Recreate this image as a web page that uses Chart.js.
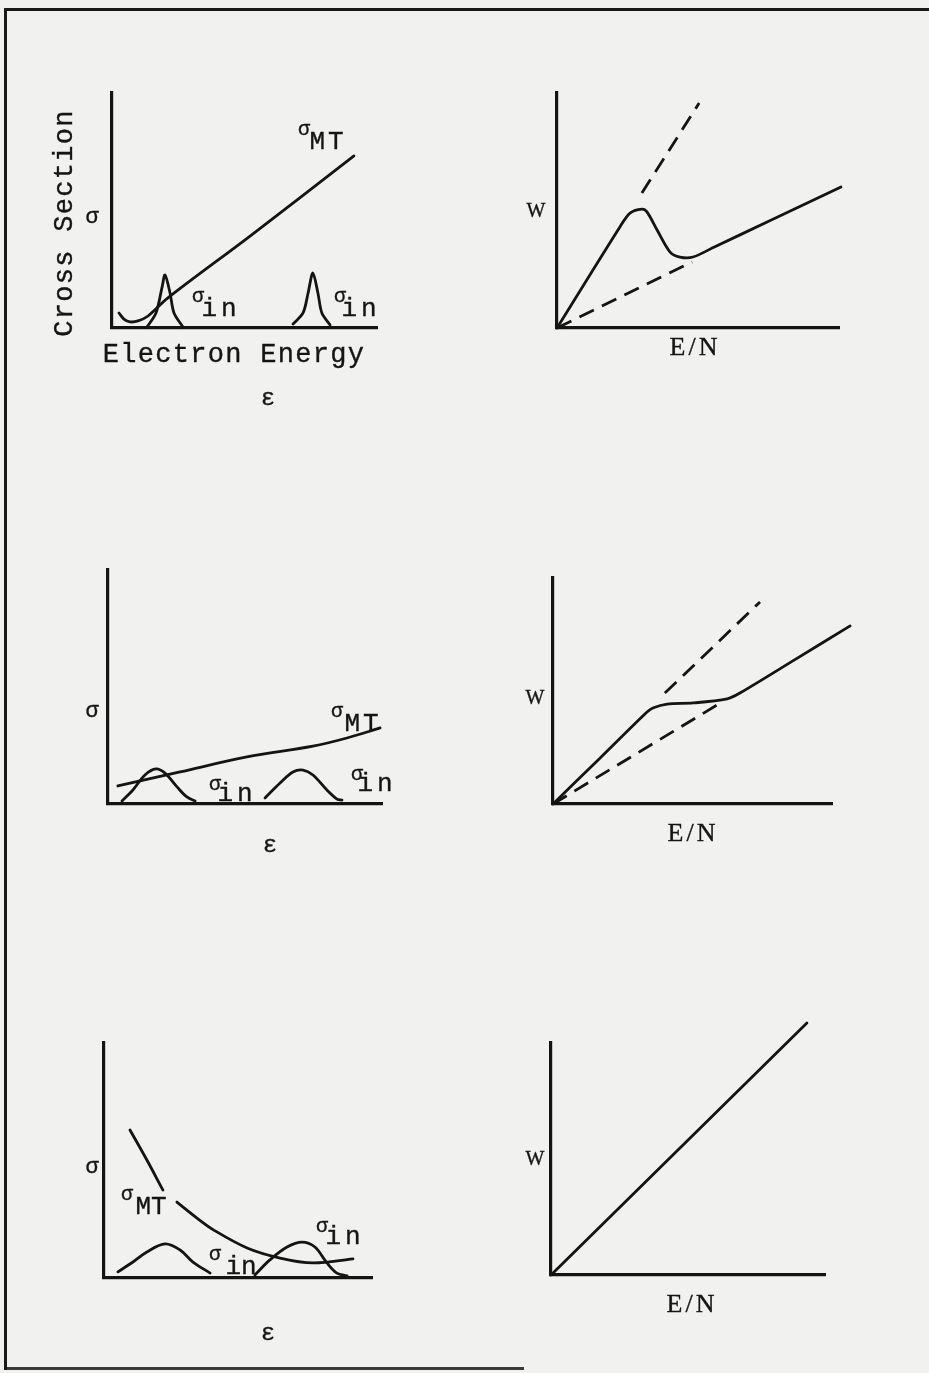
<!DOCTYPE html>
<html>
<head>
<meta charset="utf-8">
<script src="https://cdn.jsdelivr.net/npm/chart.js@4"></script>
<style>
  html, body { margin:0; padding:0; }
  body { width:929px; height:1373px; background:#f1f1ef; position:relative; overflow:hidden; }
  canvas { position:absolute; left:0; top:0; }
  .lbl { position:absolute; transform:translate(-50%,-50%); line-height:1; white-space:nowrap; color:#151515; -webkit-text-stroke:0.35px #151515; }
  .mono { font-family:"Liberation Mono","DejaVu Sans Mono",monospace; }
  .serif { font-family:"Liberation Serif","DejaVu Serif",serif; }
  .bar { position:absolute; background:#1a1a1a; }
</style>
</head>
<body>
<div class="bar" style="left:5px;top:8px;width:924px;height:3px;"></div>
<div class="bar" style="left:4px;top:8px;width:3px;height:1362px;"></div>
<div class="bar" style="left:4px;top:1367px;width:520px;height:3px;opacity:0.85;"></div>

<canvas id="c1" width="929" height="1373"></canvas>
<canvas id="c2" width="929" height="1373"></canvas>
<canvas id="c3" width="929" height="1373"></canvas>
<canvas id="c4" width="929" height="1373"></canvas>
<canvas id="c5" width="929" height="1373"></canvas>
<canvas id="c6" width="929" height="1373"></canvas>

<script>
// ---------- DATA (arbitrary units, each axis spans 0..10) ----------
// Panel 1: cross sections (sigma_MT rising, two narrow inelastic peaks)
const p1MtX  = [0.26, 0.45, 0.68, 0.98, 1.36, 2.11, 5.21, 9.13];
const p1MtY  = [0.64, 0.38, 0.26, 0.30, 0.51, 1.28, 3.91, 7.32];
const p1In1X = [1.32, 1.66, 1.89, 2.00, 2.19, 2.34, 2.68];
const p1In1Y = [0.04, 0.64, 1.74, 2.26, 1.49, 0.64, 0.04];
const p1In2X = [6.83, 7.21, 7.40, 7.58, 7.77, 7.92, 8.23];
const p1In2Y = [0.17, 0.64, 1.49, 2.34, 1.49, 0.64, 0.13];

// Panel 2: W vs E/N with peak (negative differential conductivity)
const p2SolidX = [0, 2.23, 2.59, 3.01, 3.19, 3.55, 4.01, 4.36, 4.82, 5.60, 7.45, 10.07];
const p2SolidY = [0, 4.30, 4.89, 5.06, 4.94, 4.17, 3.23, 3.02, 3.02, 3.46, 4.51, 6.00];
const p2UpX  = [3.01, 5.04];
const p2UpY  = [5.74, 9.57];
const p2LowX = [0, 4.79];
const p2LowY = [0, 2.81];

// Panel 3: slowly rising sigma_MT, two broad inelastic peaks
const p3MtX  = [0.36, 2.63, 5.07, 7.48, 8.72, 9.93];
const p3MtY  = [0.77, 1.37, 2.01, 2.47, 2.82, 3.25];
const p3In1X = [0.51, 0.91, 1.35, 1.75, 2.08, 2.52, 2.88, 3.18];
const p3In1Y = [0.13, 0.60, 1.24, 1.50, 1.32, 0.73, 0.30, 0.13];
const p3In2X = [5.73, 6.28, 6.75, 7.12, 7.48, 7.99, 8.36, 8.54];
const p3In2Y = [0.26, 0.90, 1.37, 1.45, 1.24, 0.60, 0.21, 0.17];

// Panel 4: W vs E/N with plateau
const p4SolidX = [0, 1.70, 3.37, 3.58, 4.09, 5.02, 6.24, 6.70, 8.70, 10.65];
const p4SolidY = [0, 2.05, 4.07, 4.25, 4.42, 4.47, 4.65, 4.91, 6.41, 7.88];
const p4UpX  = [4.01, 7.42];
const p4UpY  = [4.91, 8.94];
const p4LowX = [0, 5.88];
const p4LowY = [0, 4.38];

// Panel 5: decreasing sigma_MT (broken at label), two broad peaks
const p5MtX  = [0.97, 1.60, 2.20, 2.46, 2.72, 3.47, 4.07, 5.34, 6.57, 7.80, 9.29];
const p5MtY  = [6.30, 5.02, 3.74, null, 3.23, 2.55, 2.06, 1.28, 0.85, 0.64, 0.81];
const p5In1X = [0.52, 1.08, 1.60, 2.28, 2.84, 3.32, 3.96];
const p5In1Y = [0.26, 0.68, 1.11, 1.45, 1.19, 0.68, 0.21];
const p5In2X = [5.63, 6.19, 6.83, 7.39, 7.87, 8.32, 8.69, 9.07];
const p5In2Y = [0.13, 0.77, 1.32, 1.53, 1.32, 0.64, 0.21, 0.09];

// Panel 6: linear W vs E/N
const p6X = [0, 9.34];
const p6Y = [0, 10.86];

// ---------- RENDERING ----------
const INK = '#141414';
const PW = 929, PH = 1373;

function pts(xs, ys) { return xs.map((x, i) => ({ x: x, y: ys[i] })); }
function solid(xs, ys, t) {
  return { data: pts(xs, ys), borderColor: INK, borderWidth: 2.8, pointRadius: 0,
           tension: (t === undefined ? 0.35 : t), borderCapStyle: 'round', borderJoinStyle: 'round',
           spanGaps: false, clip: false, fill: false };
}
function dashed(xs, ys) {
  return { data: pts(xs, ys), borderColor: INK, borderWidth: 2.8, pointRadius: 0,
           borderDash: [16, 9], borderCapStyle: 'butt', clip: false, fill: false };
}

function panel(id, box, datasets) {
  new Chart(document.getElementById(id), {
    type: 'line',
    data: { datasets: datasets },
    options: {
      responsive: false, animation: false, events: [],
      layout: { padding: { left: box.x0, top: box.yTop, right: PW - box.xEnd, bottom: PH - box.y0 } },
      plugins: { legend: { display: false }, tooltip: { enabled: false }, title: { display: false } },
      scales: {
        x: { type: 'linear', min: 0, max: 10, grid: { display: false }, ticks: { display: false },
             border: { display: true, color: INK, width: 3.2 }, afterFit: s => { s.height = 0; } },
        y: { type: 'linear', min: 0, max: 10, grid: { display: false }, ticks: { display: false },
             border: { display: true, color: INK, width: 3.2 }, afterFit: s => { s.width = 0; } }
      }
    }
  });
}

panel('c1', { x0: 112, y0: 328, xEnd: 377, yTop: 93 }, [
  solid(p1MtX, p1MtY), solid(p1In1X, p1In1Y, 0.3), solid(p1In2X, p1In2Y, 0.3)
]);
panel('c2', { x0: 557, y0: 328, xEnd: 839, yTop: 93 }, [
  solid(p2SolidX, p2SolidY, 0.3), dashed(p2UpX, p2UpY), dashed(p2LowX, p2LowY)
]);
panel('c3', { x0: 108, y0: 804, xEnd: 382, yTop: 570 }, [
  solid(p3MtX, p3MtY), solid(p3In1X, p3In1Y), solid(p3In2X, p3In2Y)
]);
panel('c4', { x0: 553, y0: 804, xEnd: 832, yTop: 578 }, [
  solid(p4SolidX, p4SolidY, 0.3), dashed(p4UpX, p4UpY), dashed(p4LowX, p4LowY)
]);
panel('c5', { x0: 104, y0: 1278, xEnd: 372, yTop: 1043 }, [
  solid(p5MtX, p5MtY), solid(p5In1X, p5In1Y), solid(p5In2X, p5In2Y)
]);
panel('c6', { x0: 551, y0: 1275, xEnd: 825, yTop: 1043 }, [
  solid(p6X, p6Y, 0)
]);

// ---------- TEXT ----------
function label(text, cx, cy, cls, size, extra) {
  const d = document.createElement('div');
  d.className = 'lbl ' + cls;
  d.textContent = text;
  d.style.left = cx + 'px';
  d.style.top = cy + 'px';
  d.style.fontSize = size + 'px';
  if (extra) Object.assign(d.style, extra);
  document.body.appendChild(d);
}
// panel 1
label('Cross Section', 65, 223, 'mono', 27, { transform: 'translate(-50%,-50%) rotate(-90deg)', letterSpacing: '1.3px' });
label('σ', 92, 218, 'mono', 22);
label('Electron Energy', 234, 355, 'mono', 27, { letterSpacing: '1.3px' });
label('ε', 268, 399, 'mono', 24);
label('σ', 304, 130, 'mono', 20);
label('MT', 328, 142, 'mono', 26, { letterSpacing: '3px' });
label('σ', 198, 297, 'mono', 20);
label('in', 221, 309, 'mono', 26, { letterSpacing: '4px' });
label('σ', 340, 297, 'mono', 20);
label('in', 361, 309, 'mono', 26, { letterSpacing: '4px' });
// panel 2
label('W', 536, 210, 'serif', 20);
label('E/N', 695, 347, 'serif', 26, { letterSpacing: '3px' });
// panel 3
label('σ', 92, 712, 'mono', 22);
label('σ', 337, 712, 'mono', 20);
label('MT', 363, 724, 'mono', 26, { letterSpacing: '3px' });
label('σ', 215, 785, 'mono', 20);
label('in', 237, 794, 'mono', 26, { letterSpacing: '4px' });
label('σ', 357, 775, 'mono', 20);
label('in', 377, 784, 'mono', 26, { letterSpacing: '4px' });
label('ε', 270, 846, 'mono', 24);
// panel 4
label('W', 535, 697, 'serif', 20);
label('E/N', 693, 833, 'serif', 26, { letterSpacing: '3px' });
// panel 5
label('σ', 92, 1168, 'mono', 22);
label('σ', 127, 1195, 'mono', 20);
label('MT', 151, 1207, 'mono', 26);
label('σ', 215, 1255, 'mono', 20);
label('in', 241, 1267, 'mono', 26);
label('σ', 322, 1227, 'mono', 20);
label('in', 345, 1237, 'mono', 26, { letterSpacing: '4px' });
label('ε', 268, 1334, 'mono', 24);
// panel 6
label('W', 535, 1158, 'serif', 20);
label('E/N', 692, 1304, 'serif', 26, { letterSpacing: '3px' });
</script>
</body>
</html>
